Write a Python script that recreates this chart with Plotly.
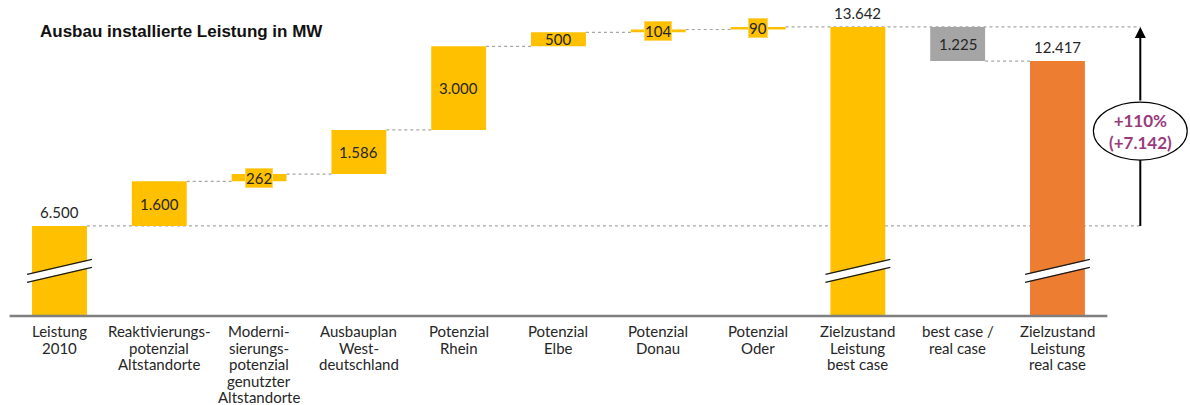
import plotly.graph_objects as go

# ---------------- data ----------------
categories = [
    "Leistung<br>2010",
    "Reaktivierungs-<br>potenzial<br>Altstandorte",
    "Moderni-<br>sierungs-<br>potenzial<br>genutzter<br>Altstandorte",
    "Ausbauplan<br>West-<br>deutschland",
    "Potenzial<br>Rhein",
    "Potenzial<br>Elbe",
    "Potenzial<br>Donau",
    "Potenzial<br>Oder",
    "Zielzustand<br>Leistung<br>best case",
    "best case /<br>real case",
    "Zielzustand<br>Leistung<br>real case",
]
values = [6500, 1600, 262, 1586, 3000, 500, 104, 90, 13642, -1225, 12417]
kinds = ["total", "delta", "delta", "delta", "delta", "delta", "delta", "delta",
         "total", "delta", "total"]
title_text = "Ausbau installierte Leistung in MW"
increase_label = "+110%<br>(+7.142)"

# ---------------- style ----------------
YELLOW, GRAY, ORANGE = "#FFC000", "#A5A5A5", "#ED7D31"
bar_colors = [YELLOW] * 9 + [GRAY, ORANGE]
TEXT = "#262626"
FONT = "Lato"
BAR_W = 0.55
HW = BAR_W / 2
Y_MIN, Y_MAX = 3160, 14610        # broken value axis
BREAK_BASE = 3270                 # value at the base line
PX = 35.89                        # MW per pixel on the value axis
ARROW_X = 10.83
LINE_STEP = 16.5                  # px between label lines


def fmt(v):
    return f"{abs(v):,}".replace(",", ".")


# ---------------- waterfall geometry ----------------
bases, heights, levels = [], [], []
running = 0
for v, k in zip(values, kinds):
    if k == "total":
        bases.append(BREAK_BASE)
        heights.append(v - BREAK_BASE)
        running = v
    else:
        if v >= 0:
            bases.append(running)
            heights.append(v)
        else:
            bases.append(running + v)
            heights.append(-v)
        running += v
    levels.append(running)

x = list(range(len(values)))

fig = go.Figure()
fig.add_trace(go.Bar(
    x=x, y=heights, base=bases, width=BAR_W,
    marker=dict(color=bar_colors, line=dict(width=0)),
    hoverinfo="skip",
))

shapes = []
annotations = []

# base line
shapes.append(dict(type="line", xref="x", yref="y", x0=-0.5, x1=len(values) - 0.5,
                   y0=BREAK_BASE, y1=BREAK_BASE,
                   line=dict(color="#7F7F7F", width=2.5), layer="above"))

# category labels (one text per line, tight line spacing)
for i, cat in enumerate(categories):
    for j, line in enumerate(cat.split("<br>")):
        annotations.append(dict(x=i, y=0, xref="x", yref="paper", text=line,
                                showarrow=False, yanchor="middle",
                                yshift=-(12 + j * LINE_STEP),
                                font=dict(family=FONT, size=15, color=TEXT)))

# reference levels (start and best case) drawn out to the arrow
start_level = values[0]
best_level = values[8]
dot = dict(color="#A6A6A6", width=1.2, dash="dot")
shapes.append(dict(type="line", xref="x", yref="y", x0=0 + HW, x1=ARROW_X,
                   y0=start_level, y1=start_level, line=dot, layer="below"))
shapes.append(dict(type="line", xref="x", yref="y", x0=7 + HW, x1=ARROW_X,
                   y0=best_level, y1=best_level, line=dot, layer="below"))
for i in range(len(values) - 1):
    lvl = levels[i]
    if lvl in (start_level, best_level):
        continue
    shapes.append(dict(type="line", xref="x", yref="y", x0=i + HW, x1=i + 1 - HW,
                       y0=lvl, y1=lvl, line=dot, layer="below"))

# break marks on total bars
brk_c = BREAK_BASE + 45 * PX
brk_dy = 7.5 * PX
off = 4 * PX
for i, k in enumerate(kinds):
    if k != "total":
        continue
    x0, x1 = i - 0.325, i + 0.325
    shapes.append(dict(type="line", xref="x", yref="y", x0=x0, x1=x1,
                       y0=brk_c - brk_dy, y1=brk_c + brk_dy,
                       line=dict(color="white", width=7), layer="above"))
    for s in (-1, 1):
        shapes.append(dict(type="line", xref="x", yref="y", x0=x0, x1=x1,
                           y0=brk_c - brk_dy + s * off, y1=brk_c + brk_dy + s * off,
                           line=dict(color="#1a1a1a", width=1.3), layer="above"))

# value labels
for i, (v, k) in enumerate(zip(values, kinds)):
    if k == "total":
        annotations.append(dict(x=i, y=v, xref="x", yref="y", text=fmt(v),
                                showarrow=False, yanchor="bottom", yshift=3,
                                font=dict(family=FONT, size=15, color=TEXT)))
    else:
        mid = bases[i] + heights[i] / 2
        small = heights[i] < 300
        a = dict(x=i, y=mid, xref="x", yref="y", text=fmt(v), showarrow=False,
                 font=dict(family=FONT, size=15, color=TEXT))
        if small:
            a.update(bgcolor=YELLOW, bordercolor="#FFD75E", borderwidth=1, borderpad=0)
        annotations.append(a)

# increase arrow with ellipse
gain = best_level - start_level
e_c = start_level + 0.477 * gain
e_h = 29 * PX
shapes.append(dict(type="line", xref="x", yref="y", x0=ARROW_X, x1=ARROW_X,
                   y0=start_level, y1=e_c - e_h, line=dict(color="black", width=2),
                   layer="above"))
annotations.append(dict(x=ARROW_X, y=best_level, ax=ARROW_X, ay=e_c + e_h,
                        xref="x", yref="y", axref="x", ayref="y", text="",
                        showarrow=True, arrowhead=2, arrowsize=1.1, arrowwidth=2,
                        arrowcolor="black", standoff=0))
shapes.append(dict(type="circle", xref="x", yref="y", x0=ARROW_X - 0.47,
                   x1=ARROW_X + 0.47, y0=e_c - e_h, y1=e_c + e_h,
                   fillcolor="white", line=dict(color="black", width=1.2),
                   layer="above"))
annotations.append(dict(x=ARROW_X, y=e_c, xref="x", yref="y",
                        text="<b>" + increase_label + "</b>", showarrow=False,
                        yanchor="middle", borderpad=0,
                        font=dict(family=FONT, size=17, color="#993B7D")))

fig.update_layout(
    width=1190, height=405,
    margin=dict(l=0, r=0, t=0, b=86, autoexpand=False),
    paper_bgcolor="white", plot_bgcolor="white",
    showlegend=False,
    title=dict(text="<b>" + title_text + "</b>", x=40 / 1190, xref="container",
               xanchor="left", y=1 - 31 / 405, yref="container", yanchor="middle",
               font=dict(family="Liberation Sans", size=17, color="#111111")),
    xaxis=dict(range=[-0.596, 11.328], showticklabels=False, showgrid=False,
               zeroline=False, showline=False, ticks="", automargin=False),
    yaxis=dict(range=[Y_MIN, Y_MAX], visible=False, automargin=False),
    shapes=shapes,
    annotations=annotations,
)

fig.write_html("out.html")
